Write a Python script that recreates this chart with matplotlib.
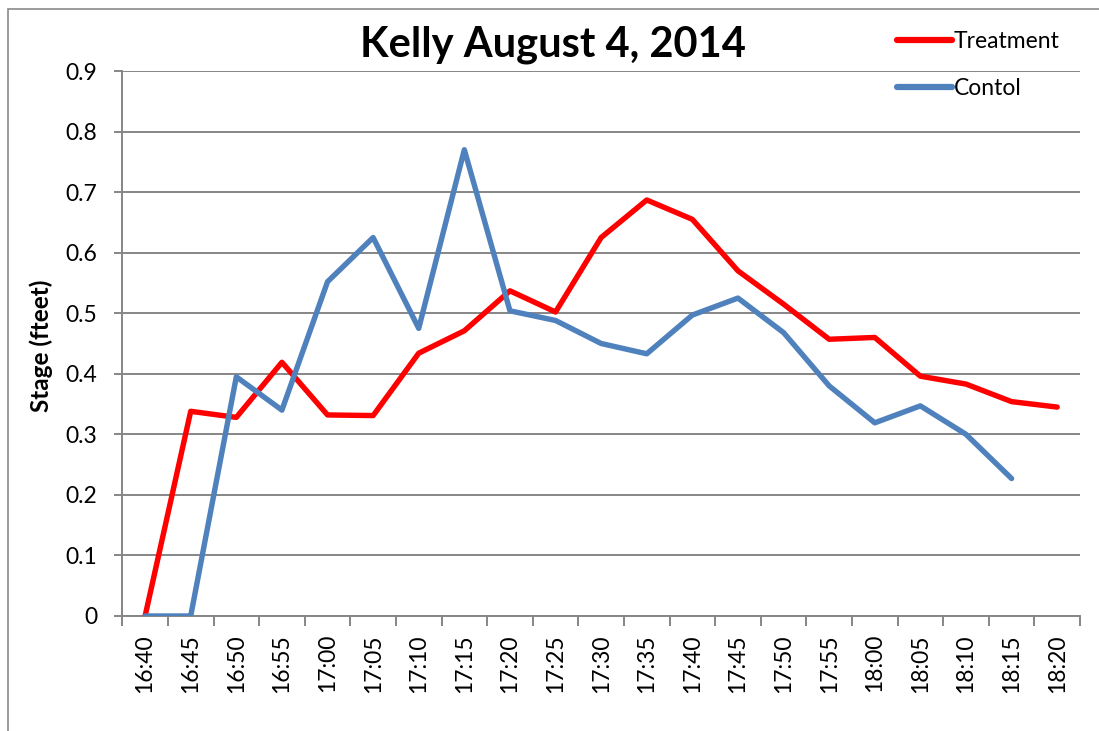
import matplotlib
matplotlib.use("Agg")
import matplotlib.pyplot as plt
from matplotlib.patches import Rectangle

# data
times = ["16:40", "16:45", "16:50", "16:55", "17:00", "17:05", "17:10", "17:15",
         "17:20", "17:25", "17:30", "17:35", "17:40", "17:45", "17:50", "17:55",
         "18:00", "18:05", "18:10", "18:15", "18:20"]
treatment = [0.0, 0.338, 0.328, 0.419, 0.332, 0.331, 0.434, 0.471, 0.537, 0.502,
             0.625, 0.687, 0.655, 0.570, 0.515, 0.457, 0.460, 0.396, 0.383, 0.354, 0.345]
control = [0.0, 0.0, 0.395, 0.340, 0.552, 0.625, 0.475, 0.770, 0.504, 0.488,
           0.450, 0.433, 0.497, 0.525, 0.468, 0.380, 0.319, 0.347, 0.300, 0.227]
yticks = [0, 0.1, 0.2, 0.3, 0.4, 0.5, 0.6, 0.7, 0.8, 0.9]

plt.rcParams["font.family"] = ["Lato", "DejaVu Sans"]
W, H = 1099, 731
fig = plt.figure(figsize=(W / 100, H / 100), dpi=100)
ax = fig.add_axes([122.3 / W, 1 - 616 / H, (1080 - 122.3) / W, (616 - 71) / H])

grid_c = "#868686"
fs = 16.5
x_t = list(range(len(treatment)))
x_c = list(range(len(control)))
ax.plot(x_t, treatment, color="#FF0000", lw=3.9, label="Treatment",
        solid_joinstyle="round", solid_capstyle="round", zorder=3)
ax.plot(x_c, control, color="#4F81BD", lw=3.9, label="Contol",
        solid_joinstyle="round", solid_capstyle="round", zorder=3)

ax.set_xlim(-0.5, len(times) - 0.5)
ax.set_ylim(0, 0.9)
ax.set_yticks(yticks)
ax.set_yticklabels(["0" if v == 0 else f"{v:.1f}" for v in yticks], fontsize=fs)
ax.yaxis.grid(True, color=grid_c, lw=1.4)
ax.set_axisbelow(True)

# category labels at centres, tick marks at boundaries
ax.set_xticks(x_t)
ax.set_xticklabels(times, rotation=90, fontsize=fs)
ax.tick_params(axis="x", length=0, pad=13)
ax.set_xticks([i - 0.5 for i in range(len(times) + 1)], minor=True)
ax.tick_params(axis="x", which="minor", length=7, color=grid_c, width=1.4)
ax.tick_params(axis="y", length=6, color=grid_c, width=1.4, pad=12)

for s in ["top", "right"]:
    ax.spines[s].set_visible(False)
ax.spines["left"].set_color(grid_c)
ax.spines["left"].set_linewidth(1.4)
ax.spines["bottom"].set_color(grid_c)
ax.spines["bottom"].set_linewidth(1.4)

ax.set_ylabel("Stage (fteet)", fontsize=17.5, fontweight="bold")
ax.yaxis.set_label_coords(-0.072, 0.495)
fig.text(553 / W, 1 - 56 / H, "Kelly August 4, 2014", ha="center", va="baseline",
         fontsize=30, fontweight="bold")

leg = fig.legend(loc="upper left", bbox_to_anchor=(876 / W, 1 - 10 / H),
                 frameon=False, fontsize=fs, handlelength=2.4,
                 handletextpad=0.08, labelspacing=1.15)
for h in leg.get_lines():
    h.set_solid_capstyle("round")
    h.set_linewidth(4.5)

# outer chart frame
fig.patches.append(Rectangle((8 / W, -0.1), 1.2, 1 - 9 / H + 0.1, transform=fig.transFigure,
                             fill=False, edgecolor="#8a8a8a", lw=1.2))

fig.savefig("out.png", dpi=100)
